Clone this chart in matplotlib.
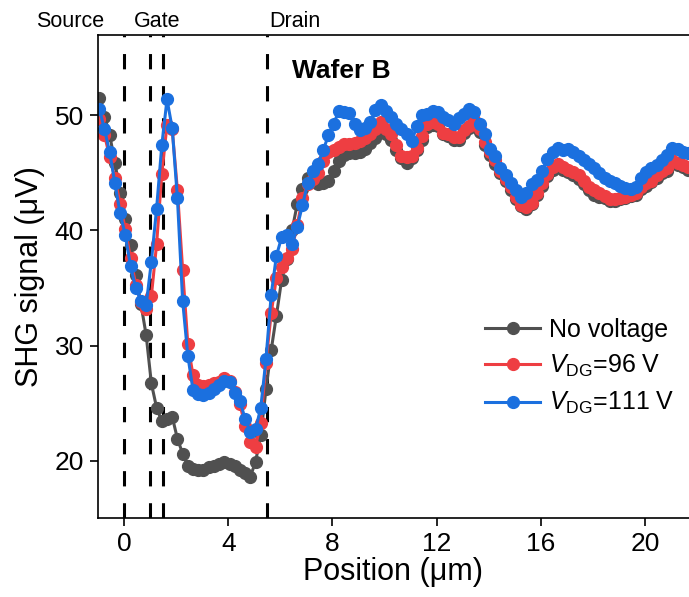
import numpy as np
import matplotlib.pyplot as plt

plt.rcParams['font.family'] = ['Liberation Sans', 'DejaVu Sans']
plt.rcParams['mathtext.fontset'] = 'custom'
plt.rcParams['mathtext.rm'] = 'Liberation Sans'
plt.rcParams['mathtext.it'] = 'Liberation Sans:italic'

# line scan: first position and step (um)
x0 = -0.95
dx = 0.2

# SHG signal (uV) along the scan
no_voltage = [51.5, 49.9, 48.3, 45.9, 43.3, 41.0, 38.7, 36.1, 33.6, 30.9,
              26.7, 24.6, 23.4, 23.6, 23.8, 21.9, 20.6, 19.5, 19.3, 19.2,
              19.2, 19.4, 19.5, 19.7, 19.9, 19.7, 19.5, 19.2, 18.9, 18.6,
              19.9, 22.2, 26.2, 29.6, 32.6, 35.7, 37.5, 40.0, 42.3, 43.6,
              44.6, 44.2, 44.0, 44.1, 44.3, 45.2, 46.0, 46.6, 46.7, 46.7,
              46.8, 47.1, 47.6, 48.0, 48.6, 48.4, 47.9, 47.0, 46.3, 45.9,
              46.3, 47.0, 47.9, 49.0, 49.2, 49.1, 48.4, 48.2, 47.9, 47.9,
              48.5, 48.9, 49.3, 48.6, 47.4, 46.6, 45.8, 45.0, 44.3, 43.5,
              42.7, 42.1, 41.9, 42.3, 43.1, 43.9, 44.7, 45.3, 45.6, 45.3,
              45.1, 44.8, 44.5, 44.0, 43.5, 43.1, 42.9, 42.8, 42.6, 42.6,
              42.7, 42.8, 43.0, 43.1, 43.6, 43.9, 44.2, 44.6, 45.0, 45.2,
              45.9, 45.7, 45.5, 45.3]

vdg_96 = [49.7, 48.3, 46.4, 44.6, 42.3, 40.1, 37.6, 35.3, 33.8, 33.2,
          34.3, 38.8, 44.9, 49.2, 48.8, 43.5, 36.6, 30.1, 27.4, 26.6,
          26.5, 26.6, 26.7, 26.8, 27.2, 26.9, 26.0, 24.9, 23.0, 21.6,
          21.2, 23.3, 28.5, 32.8, 35.9, 36.8, 37.6, 38.4, 40.5, 42.8,
          44.0, 44.5, 45.0, 46.0, 46.8, 47.0, 47.3, 47.5, 47.5, 47.6,
          47.8, 48.0, 48.4, 48.8, 49.4, 48.8, 48.4, 47.4, 46.5, 46.4,
          46.5, 47.2, 48.2, 49.3, 49.4, 49.3, 48.5, 48.4, 48.1, 48.1,
          48.7, 49.1, 49.6, 48.8, 47.7, 46.8, 46.1, 45.2, 44.5, 43.8,
          42.9, 42.2, 42.0, 42.4, 43.3, 44.1, 44.9, 45.5, 45.8, 45.5,
          45.3, 45.1, 44.8, 44.3, 43.8, 43.5, 43.3, 43.0, 42.75, 42.75,
          42.8, 42.9, 43.1, 43.3, 43.8, 44.1, 44.3, 44.8, 45.2, 45.4,
          46.1, 45.9, 45.7, 45.5]

vdg_111 = [50.6, 48.8, 46.8, 44.1, 41.5, 39.6, 36.9, 35.0, 33.9, 33.5,
           37.3, 41.9, 47.4, 51.4, 48.9, 42.8, 33.9, 29.1, 26.1, 25.8,
           25.7, 25.9, 26.2, 26.6, 26.9, 26.8, 25.9, 25.2, 23.6, 22.5,
           22.7, 24.6, 28.8, 34.4, 37.8, 39.4, 39.6, 38.8, 40.3, 42.2,
           44.1, 45.2, 45.8, 47.0, 48.3, 49.3, 50.4, 50.3, 50.2, 49.3,
           48.7, 48.9, 49.4, 50.5, 50.9, 50.4, 49.9, 49.3, 48.8, 48.4,
           47.8, 49.1, 50.0, 50.1, 50.4, 50.3, 49.9, 49.6, 49.3, 49.8,
           50.1, 50.6, 50.3, 49.3, 48.4, 47.1, 46.5, 45.4, 44.8, 44.1,
           43.5, 42.9, 43.3, 44.0, 44.4, 45.2, 46.2, 46.8, 47.2, 47.0,
           47.1, 46.8, 46.5, 46.1, 45.8, 45.4, 45.0, 44.6, 44.3, 44.1,
           43.9, 43.7, 43.6, 43.8, 44.6, 45.1, 45.4, 45.7, 46.1, 46.6,
           47.2, 47.1, 46.8, 46.7]

pos = x0 + dx * np.arange(len(no_voltage))

# electrode edges and region names
edges = [0, 1, 1.5, 5.5]
regions = ['Source', 'Gate', 'Drain']
region_x = [-2.07, 1.27, 6.55]

fig = plt.figure(figsize=(6.89, 5.97), dpi=100)
ax = fig.add_axes([0.1422, 0.1323, 0.8578, 0.8091])

for e in edges:
    ax.axvline(e, color='black', lw=2.2, dashes=(5, 5.5), zorder=1)

style = dict(marker='o', ms=8.5, lw=2.2, zorder=2)
ax.plot(pos, no_voltage, color='#505050', label='No voltage', **style)
ax.plot(pos, vdg_96, color='#ee3e42', label=r'$V_{\mathrm{DG}}$=96 V', **style)
ax.plot(pos, vdg_111, color='#1b70df', label=r'$V_{\mathrm{DG}}$=111 V', **style)

ax.set_xlim(-1, 21.69)
ax.set_ylim(15, 57)
ax.set_xticks([0, 4, 8, 12, 16, 20])
ax.set_yticks([20, 30, 40, 50])
ax.tick_params(direction='out', length=6, width=1.2, labelsize=19, pad=4)
ax.spines['right'].set_visible(False)
for s in ['left', 'top', 'bottom']:
    ax.spines[s].set_linewidth(1.2)

ax.set_xlabel('Position (μm)', fontsize=22, labelpad=1)
ax.set_ylabel('SHG signal (μV)', fontsize=22, labelpad=7)

trans = ax.get_xaxis_transform()
for name, xr in zip(regions, region_x):
    ax.text(xr, 1.017, name, transform=trans, ha='center', va='baseline',
            fontsize=15.5, clip_on=False)

ax.text(6.45, 53.3, 'Wafer B', fontsize=19, fontweight='bold', va='baseline')

ax.legend(loc='upper left', bbox_to_anchor=(0.655, 0.415), frameon=False,
          fontsize=18, handlelength=2.2, handletextpad=0.35, labelspacing=0.45,
          borderpad=0, borderaxespad=0)

fig.savefig('out.png', dpi=100)
